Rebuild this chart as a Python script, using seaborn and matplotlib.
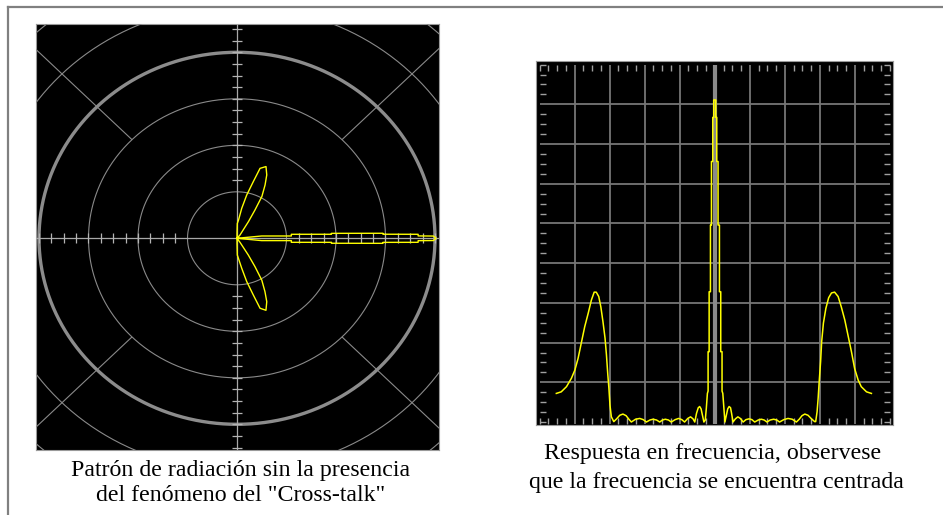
import numpy as np
import matplotlib
matplotlib.use("Agg")
import matplotlib.pyplot as plt
from matplotlib.lines import Line2D
from matplotlib.ticker import FixedLocator, MultipleLocator
import seaborn as sns

# ---------------- data ----------------
# Radiation pattern: polyline vertices (angle in degrees, radius in ring units)
LOBE_ANGLE_DEG = [
    0.0, 5.7, 2.6, 4.5, 2.6, 3.2, 2.1, 1.7, 1.35, 0.8, 0.7, 0.0,
    -0.7, -0.8, -1.35, -1.7, -2.1, -3.2, -2.6, -4.5, -2.6, -5.7, 0.0,
    -55.0, -57.6, -59.2, -60.9, -63.8, -66.2, -69.3, -72.8, -74.9, -78.1, -81.6, -89.0, -90.0,
    0.0,
    90.0, 88.9, 85.6, 81.6, 78.1, 74.9, 72.8, 69.2, 66.2, 63.7, 60.8, 59.2, 57.2, 49.4, 0.0,
]
LOBE_RADIUS = [
    0.0, 0.50, 1.10, 1.10, 1.91, 1.91, 2.95, 2.95, 3.66, 3.66, 3.97, 4.02,
    3.97, 3.66, 3.66, 2.95, 2.95, 1.91, 1.91, 1.10, 1.10, 0.50, 0.0,
    0.105, 0.425, 0.71, 1.03, 1.28, 1.49, 1.655, 1.575, 1.26, 0.95, 0.65, 0.36, 0.10,
    0.0,
    0.10, 0.32, 0.39, 0.65, 0.95, 1.26, 1.575, 1.65, 1.49, 1.28, 1.03, 0.71, 0.43, 0.09, 0.0,
]

# Frequency response (x in grid divisions from centre, y in grid divisions)
FREQ_X = [
    -4.52, -4.38, -4.23, -4.09, -3.99, -3.90, -3.80, -3.71, -3.61, -3.52, -3.44, -3.38,
    -3.31, -3.25, -3.19, -3.13, -3.09, -3.05, -3.02, -2.99, -2.95, -2.88,
    -2.80, -2.71, -2.62, -2.53, -2.45, -2.38, -2.26, -2.14, -2.04, -1.95, -1.85, -1.76,
    -1.66, -1.57, -1.49, -1.41, -1.32, -1.24, -1.13, -1.03, -0.94, -0.86, -0.77, -0.69,
    -0.62, -0.57, -0.52, -0.47, -0.43, -0.39, -0.35, -0.31,
    -0.27, -0.24, -0.21, -0.19, -0.19, -0.16, -0.16, -0.123, -0.123, -0.094, -0.094,
    -0.057, -0.057, -0.029, -0.029, 0.029, 0.029, 0.057, 0.057, 0.094, 0.094, 0.134,
    0.134, 0.171, 0.171, 0.208, 0.208, 0.23, 0.26, 0.29,
    0.33, 0.37, 0.41, 0.45, 0.48, 0.52, 0.59, 0.66, 0.73, 0.81, 0.89, 0.98, 1.06, 1.14,
    1.24, 1.33, 1.41, 1.49, 1.58, 1.68, 1.77, 1.85, 1.97, 2.09, 2.21, 2.33, 2.41, 2.49,
    2.57, 2.66, 2.76, 2.85,
    2.88, 2.92, 2.95, 2.98, 3.02, 3.05, 3.10, 3.17, 3.25, 3.33, 3.42, 3.52, 3.61, 3.71,
    3.80, 3.90, 3.99, 4.09, 4.18, 4.33, 4.47,
]
FREQ_Y = [
    0.72, 0.76, 0.89, 1.10, 1.31, 1.60, 2.02, 2.40, 2.74, 3.07, 3.27, 3.27,
    3.16, 2.90, 2.53, 2.11, 1.69, 1.18, 0.85, 0.43, 0.13, 0.01,
    0.08, 0.17, 0.20, 0.16, 0.07, 0.00, 0.07, 0.09, 0.06, 0.00, 0.05, 0.07,
    0.05, 0.00, 0.05, 0.07, 0.05, 0.00, 0.06, 0.09, 0.06, 0.00, 0.09, 0.13,
    0.08, 0.00, 0.22, 0.36, 0.39, 0.33, 0.16, 0.00,
    0.05, 0.35, 0.72, 0.78, 1.77, 1.77, 3.28, 3.28, 4.96, 4.96, 6.56,
    6.56, 7.67, 7.67, 8.11, 8.11, 7.67, 7.67, 6.56, 6.56, 4.96, 4.96,
    3.28, 3.28, 1.77, 1.77, 0.78, 0.72, 0.35, 0.00,
    0.16, 0.33, 0.39, 0.36, 0.22, 0.00, 0.08, 0.13, 0.09, 0.00, 0.06, 0.08, 0.06, 0.00,
    0.05, 0.07, 0.05, 0.00, 0.05, 0.07, 0.05, 0.00, 0.06, 0.09, 0.07, 0.00, 0.07, 0.16,
    0.20, 0.17, 0.08, 0.01,
    0.01, 0.26, 0.60, 1.02, 1.52, 2.02, 2.49, 2.86, 3.13, 3.25, 3.27, 3.16, 2.90, 2.57,
    2.19, 1.77, 1.35, 1.06, 0.89, 0.76, 0.72,
]

CAPTION_LEFT = ["Patrón de radiación sin la presencia", 'del fenómeno del "Cross-talk"']
CAPTION_RIGHT = ["Respuesta en frecuencia, observese", "que la frecuencia se encuentra centrada"]

# ---------------- layout helpers ----------------
W, H = 943, 515


def frac_box(l, t, r, b):
    return [l / W, 1 - b / H, (r - l) / W, (b - t) / H]


fig = plt.figure(figsize=(W / 100, H / 100), dpi=100)
fig.patch.set_facecolor("white")

# outer page frame (top and left edges)
fig.add_artist(Line2D([8 / W, 8 / W], [0, 1 - 7 / H], color="#808080", lw=1.6))
fig.add_artist(Line2D([8 / W, 1], [1 - 7 / H, 1 - 7 / H], color="#808080", lw=1.6))

# ---------------- left: polar radiation pattern ----------------
bg_l = fig.add_axes(frac_box(36, 24, 439, 450))
bg_l.set_facecolor("black")
bg_l.set_xticks([])
bg_l.set_yticks([])
for s in bg_l.spines.values():
    s.set_color("#9a9a9a")
    s.set_linewidth(0.8)

R = 6.3
cx, cy, sx, sy = 237, 238.3, 49.5, 46.5
ax_p = fig.add_axes(frac_box(cx - R * sx, cy - R * sy, cx + R * sx, cy + R * sy),
                    projection="polar")
ax_p.set_aspect("auto")
ax_p.patch.set_visible(False)
ax_p.spines["polar"].set_visible(False)
ax_p.grid(False)

th = np.linspace(0, 2 * np.pi, 721)
for rr in [1, 2, 3, 5, 6]:
    ax_p.plot(th, np.full_like(th, rr), color="#8a8a8a", lw=0.8, zorder=1)
ax_p.plot(th, np.full_like(th, 4.0), color="#8c8c8c", lw=2.4, zorder=2)
ax_p.vlines(np.deg2rad([45, 135, 225, 315]), 3, R + 1, color="#8a8a8a", lw=0.8, zorder=1)
ax_p.vlines(np.deg2rad([0, 90, 180, 270]), 0, R + 1, color="#a8a8a8", lw=0.9, zorder=2)

tk = np.arange(1.25, 4.76, 0.25)
for ang, mk in [(90, "_"), (270, "_"), (0, "|"), (180, "|")]:
    ax_p.plot(np.full(tk.size, np.deg2rad(ang)), tk, ls="none", marker=mk, ms=7.5,
              mew=0.9, color="#b4b4b4", zorder=3)

sns.lineplot(x=np.deg2rad(LOBE_ANGLE_DEG), y=LOBE_RADIUS, ax=ax_p, estimator=None,
             sort=False, color="#ffff00", lw=1.0, zorder=5)

ax_p.set_ylim(0, R)
ax_p.set_xticks([])
ax_p.set_yticks([])
ax_p.set_xlabel("")
ax_p.set_ylabel("")
for art in list(ax_p.lines) + list(ax_p.collections):
    art.set_clip_path(bg_l.patch)

# ---------------- right: frequency response ----------------
bg_r = fig.add_axes(frac_box(536, 61, 893, 425))
bg_r.set_facecolor("black")
bg_r.set_xticks([])
bg_r.set_yticks([])
for s in bg_r.spines.values():
    s.set_color("#9a9a9a")
    s.set_linewidth(0.8)

ax_r = fig.add_axes(frac_box(539.5, 64.6, 890, 424))
ax_r.patch.set_visible(False)
for s in ax_r.spines.values():
    s.set_visible(False)
ax_r.set_xlim(-5, 5)
ax_r.set_ylim(-0.05, 9)
ax_r.xaxis.set_major_locator(FixedLocator(list(range(-4, 5))))
ax_r.yaxis.set_major_locator(FixedLocator(list(range(1, 9))))
ax_r.xaxis.set_minor_locator(MultipleLocator(0.25))
ax_r.yaxis.set_minor_locator(MultipleLocator(0.25))
ax_r.tick_params(which="major", length=0, labelbottom=False, labelleft=False)
ax_r.tick_params(which="minor", direction="in", length=4.3, width=1.0, color="#a0a0a0",
                 top=True, right=True, bottom=True, left=True)
ax_r.grid(which="major", color="#767676", lw=1.3)
ax_r.axvline(0, color="#8a8a8a", lw=3.0, zorder=3)

sns.lineplot(x=FREQ_X, y=FREQ_Y, ax=ax_r, estimator=None, sort=False,
             color="#ffff00", lw=1.1, zorder=5)
ax_r.set_xlabel("")
ax_r.set_ylabel("")

# ---------------- captions ----------------
cap_kw = dict(ha="center", va="baseline", fontsize=17.2, family="Liberation Serif",
              color="black")
fig.text(240.4 / W, 1 - 476.3 / H, CAPTION_LEFT[0], **cap_kw)
fig.text(240.8 / W, 1 - 501.3 / H, CAPTION_LEFT[1], **cap_kw)
fig.text(712.5 / W, 1 - 459.3 / H, CAPTION_RIGHT[0], **cap_kw)
fig.text(716.5 / W, 1 - 488.3 / H, CAPTION_RIGHT[1], **cap_kw)

fig.savefig("out.png", dpi=100)
